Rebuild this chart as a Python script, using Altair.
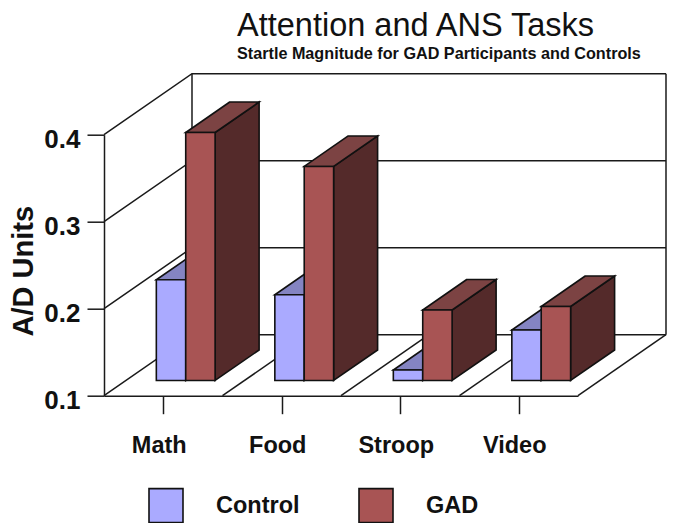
import json
import altair as alt
import pandas as pd

categories = ["Math", "Food", "Stroop", "Video"]
control = [0.2157, 0.1985, 0.112, 0.158]
gad = [0.385, 0.346, 0.181, 0.185]
y_ticks = [0.1, 0.2, 0.3, 0.4]
series_names = ["Control", "GAD"]
front_colors = ["#AAAAFF", "#A85454"]
top_colors = ["#8484C2", "#7C4343"]
side_colors = ["#6666A0", "#542A2A"]

# oblique projection, in data units
DX, DY = 0.7426, 0.0701
BAR_T0, BAR_T1 = 0.25, 0.75
BAR_W = 0.248
BAR_START = 0.256

XS = alt.Scale(domain=[0, 4], nice=False, zero=False)
YS = alt.Scale(domain=[0.1, 0.4], nice=False, zero=False)
LINE = "#1a1a1a"

AX = alt.Axis(
    values=[0.5, 1.5, 2.5, 3.5],
    labelExpr=f"{json.dumps(categories)}[floor(datum.value)]",
    grid=False, domainColor=LINE, tickColor=LINE, domainWidth=1.5, tickWidth=1.5,
    tickSize=18, labelFont="Liberation Sans", labelFontWeight="bold", labelFontSize=23.5,
    labelColor="#111", labelPadding=20, labelOffset=-4.5, labelAngle=0, title=None)
AY = alt.Axis(
    values=y_ticks, format=".1f", grid=False, domainColor=LINE, tickColor=LINE,
    domainWidth=1.5, tickWidth=1.5, tickSize=17,
    labelFont="Liberation Sans", labelFontWeight="bold", labelFontSize=26, labelOffset=5,
    labelColor="#111", labelPadding=7, title="A/D Units",
    titleFont="Liberation Sans", titleFontWeight="bold", titleFontSize=29, titleColor="#111",
    titleAngle=270, titleX=-72, titleY=136, titleBaseline="alphabetic")


def X(f="x"):
    return alt.X(f"{f}:Q", scale=XS, axis=AX)


def Y(f="y"):
    return alt.Y(f"{f}:Q", scale=YS, axis=AY)


# wall and floor lines
lines = []
def add_line(name, pts):
    for n, (a, b) in enumerate(pts):
        lines.append({"id": name, "n": n, "x": a, "y": b})

for v in y_ticks:
    add_line(f"g{v}", [(0, v), (DX, v + DY), (4 + DX, v + DY)])
for i in range(1, 5):
    add_line(f"f{i}", [(i, 0.1), (i + DX, 0.1 + DY)])
add_line("back", [(DX, 0.1 + DY), (DX, 0.4 + DY)])
add_line("right", [(4 + DX, 0.1 + DY), (4 + DX, 0.4 + DY)])

grid = alt.Chart(pd.DataFrame(lines)).mark_line(color=LINE, strokeWidth=1.5).encode(
    x=X(), y=Y(), detail="id:N", order="n:Q")


def bar_tables(values, offset):
    sides, tops, fronts = [], [], []
    for i, (c, v) in enumerate(zip(categories, values)):
        xl = i + BAR_START + offset * BAR_W + BAR_T0 * DX
        xr = xl + BAR_W
        depth = (BAR_T1 - BAR_T0)
        base = 0.1 + BAR_T0 * DY
        top = v + BAR_T0 * DY
        fronts.append({"x": xl, "x2": xr, "y": base, "y2": top})
        for t in (0, depth):
            sides.append({"id": c, "x": xr + t * DX, "y": base + t * DY, "y2": top + t * DY})
            tops.append({"id": c, "x": xl + t * DX, "x2": xr + t * DX, "y": top + t * DY})
    return pd.DataFrame(sides), pd.DataFrame(tops), pd.DataFrame(fronts)


layers = [grid]
stroke = dict(stroke="#111", strokeWidth=1.6, strokeJoin="miter")
for k, (name, vals) in enumerate(zip(series_names, [control, gad])):
    sides, tops, fronts = bar_tables(vals, k)
    fronts["series"] = name
    layers.append(alt.Chart(sides).mark_area(fill=side_colors[k], orient="vertical", **stroke).encode(
        x=X(), y=Y(), y2="y2:Q", detail="id:N"))
    layers.append(alt.Chart(tops).mark_area(fill=top_colors[k], orient="horizontal", **stroke).encode(
        x=X(), x2="x2:Q", y=Y(), detail="id:N"))
    layers.append(alt.Chart(fronts).mark_rect(**stroke).encode(
        x=X(), x2="x2:Q", y=Y(), y2="y2:Q",
        fill=alt.Fill("series:N", scale=alt.Scale(domain=series_names, range=front_colors),
                      legend=alt.Legend(
                          title=None, orient="none", legendX=44, legendY=352.5, direction="horizontal",
                          columns=2, symbolType="square", symbolSize=1156, symbolStrokeColor="#111",
                          symbolStrokeWidth=1.6, symbolOpacity=1, labelFont="Liberation Sans",
                          labelFontWeight="bold", labelFontSize=23.5, labelColor="#111", labelOffset=32,
                          columnPadding=55, padding=0))))

chart = alt.layer(*layers).properties(
    width=474,
    height=261,
    padding={"left": 96, "right": 89, "top": 126.7, "bottom": 127.3},
    autosize=alt.AutoSizeParams(type="none"),
    title=alt.TitleParams(
        "Attention and ANS Tasks",
        subtitle="Startle Magnitude for GAD Participants and Controls",
        anchor="start", frame="group", dx=133, offset=9,
        font="Liberation Sans", fontWeight="normal", fontSize=32.5, color="#111",
        subtitleFont="Liberation Sans", subtitleFontWeight="bold", subtitleFontSize=16.2,
        subtitleColor="#111", subtitlePadding=3.5),
).configure_view(stroke=None)

chart.save("out.html", embed_options={"renderer": "svg", "actions": False})
